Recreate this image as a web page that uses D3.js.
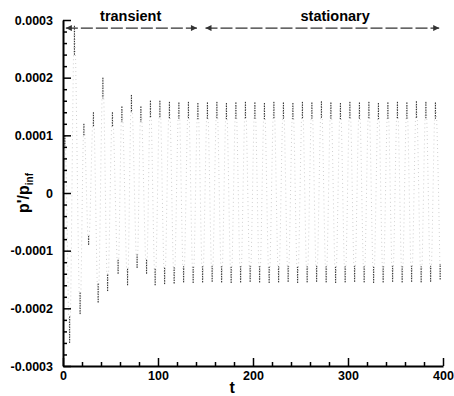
<!DOCTYPE html>
<html>
<head>
<meta charset="utf-8">
<script src="https://cdn.jsdelivr.net/npm/d3@7"></script>
<style>
  body { margin: 0; background: #fff; }
  text { font-family: "Liberation Sans", Arial, sans-serif; font-weight: bold; fill: #000; }
</style>
</head>
<body>
<svg id="chart" width="454" height="396"></svg>
<script>
// pressure signal at each turning point (t, p'/p_inf)
var sigT = [0, 2, 7, 12, 18, 22, 27, 32, 37, 42, 47, 52, 58, 62, 68, 72, 78, 82, 88, 92,
  97, 102, 107, 112, 117, 122, 127, 132, 137, 142, 147, 152, 157, 162, 167, 172, 177, 182,
  187, 192, 197, 202, 207, 212, 217, 222, 227, 232, 237, 242, 247, 252, 257, 262, 267, 272,
  277, 282, 287, 292, 297, 302, 307, 312, 317, 322, 327, 332, 337, 342, 347, 352, 357, 362,
  367, 372, 377, 382, 387, 392, 397];
var sigP = [0, 0.00010, -0.00026, 0.00029, -0.00021, 0.00012, -0.00009, 0.00014, -0.00019, 0.00020,
  -0.00017, 0.00014, -0.00014, 0.00015, -0.00016, 0.00017, -0.00013, 0.00015, -0.00014, 0.00016,
  -0.000160, 0.000160, -0.000158, 0.000158, -0.000157, 0.000157, -0.000155, 0.000158, -0.000156, 0.000156,
  -0.000155, 0.000157, -0.000154, 0.000158, -0.000155, 0.000156, -0.000156, 0.000157, -0.000155, 0.000158,
  -0.000154, 0.000157, -0.000155, 0.000156, -0.000156, 0.000158, -0.000155, 0.000157, -0.000154, 0.000156,
  -0.000156, 0.000158, -0.000155, 0.000157, -0.000154, 0.000159, -0.000155, 0.000157, -0.000156, 0.000156,
  -0.000155, 0.000158, -0.000154, 0.000157, -0.000155, 0.000158, -0.000156, 0.000156, -0.000155, 0.000157,
  -0.000154, 0.000158, -0.000155, 0.000157, -0.000154, 0.000159, -0.000155, 0.000158, -0.000154, 0.000157,
  -0.000150];

var xTicks = [0, 100, 200, 300, 400];
var xMinor = [20, 40, 60, 80, 120, 140, 160, 180, 220, 240, 260, 280, 320, 340, 360, 380];
var yTicks = [-0.0003, -0.0002, -0.0001, 0, 0.0001, 0.0002, 0.0003];
var yMinor = [-0.00028, -0.00026, -0.00024, -0.00022, -0.00018, -0.00016, -0.00014, -0.00012,
  -0.00008, -0.00006, -0.00004, -0.00002, 0.00002, 0.00004, 0.00006, 0.00008,
  0.00012, 0.00014, 0.00016, 0.00018, 0.00022, 0.00024, 0.00026, 0.00028];

// phase spans drawn at the top
var phases = [["transient", 3, 141, 39], ["stationary", 150, 396, 250]];

var svg = d3.select("#chart");
var x = d3.scaleLinear().domain([0, 400]).range([63, 443]);
var y = d3.scaleLinear().domain([-0.0003, 0.0003]).range([366, 20]);

var pts = sigT.map(function(t, i) { return [t, sigP[i]]; });

//Signal line
var line = d3.line()
    .x(d => x(d[0]))
    .y(d => y(d[1]))
    .curve(d3.curveMonotoneX);

svg.append("path")
    .datum(pts)
    .attr("d", line)
    .attr("fill", "none")
    .attr("stroke", "#a0a0a0")
    .attr("stroke-width", 0.5)
    .attr("stroke-dasharray", "1,3");

//Darker strokes near each turning point (how the scan shows them)
svg.append("g")
    .selectAll("line")
    .data(pts.slice(1))
    .enter()
    .append("line")
    .attr("x1", d => x(d[0]))
    .attr("x2", d => x(d[0]))
    .attr("y1", d => y(d[1]))
    .attr("y2", d => y(d[1] * 0.82))
    .attr("stroke", "#222")
    .attr("stroke-width", 1)
    .attr("stroke-dasharray", "1.5,1");

//Axes
var fmt = function(d) { return d === 0 ? "0" : d.toFixed(4); };

svg.append("g")
    .attr("transform", "translate(0,366)")
    .call(d3.axisBottom(x).tickValues(xMinor).tickSize(-4).tickFormat(""))
    .call(g => g.select(".domain").remove());
var xAxis = svg.append("g")
    .attr("transform", "translate(0,366)")
    .call(d3.axisBottom(x).tickValues(xTicks).tickSizeInner(-8).tickSizeOuter(0).tickPadding(5));

svg.append("g")
    .attr("transform", "translate(63,0)")
    .call(d3.axisLeft(y).tickValues(yMinor).tickSize(-4).tickFormat(""))
    .call(g => g.select(".domain").remove());
var yAxis = svg.append("g")
    .attr("transform", "translate(63,0)")
    .call(d3.axisLeft(y).tickValues(yTicks).tickFormat(fmt).tickSizeInner(-8).tickSizeOuter(0).tickPadding(10));

svg.selectAll(".tick line").attr("stroke", "#000").attr("stroke-width", 1.5);
svg.selectAll(".domain").attr("stroke", "#000").attr("stroke-width", 2);
svg.selectAll(".tick text").style("font-size", "12.5px").style("font-weight", "bold")
    .style("font-family", "'Liberation Sans', Arial, sans-serif");

//Axis titles
svg.append("text")
    .attr("x", x(178))
    .attr("y", 393)
    .attr("text-anchor", "middle")
    .style("font-size", "16px")
    .text("t");

var ylab = svg.append("text")
    .attr("transform", "translate(29," + y(0) + ") rotate(-90)")
    .attr("text-anchor", "middle")
    .style("font-size", "16px");
ylab.append("tspan").text("p'/p");
ylab.append("tspan").attr("dy", 4).style("font-size", "10px").text("inf");

//Phase arrows at the top
var defs = svg.append("defs");
defs.append("marker")
    .attr("id", "head")
    .attr("viewBox", "0 0 10 10")
    .attr("refX", 10).attr("refY", 5)
    .attr("markerWidth", 7).attr("markerHeight", 5)
    .attr("orient", "auto-start-reverse")
    .append("path")
    .attr("d", "M0,0L10,5L0,10z")
    .attr("fill", "#333");

var phase = svg.append("g")
    .selectAll("g")
    .data(phases)
    .enter()
    .append("g");

phase.append("line")
    .attr("x1", d => x(d[1]))
    .attr("x2", d => x(d[2]))
    .attr("y1", y(0.000286))
    .attr("y2", y(0.000286))
    .attr("stroke", "#333")
    .attr("stroke-width", 1.2)
    .attr("stroke-dasharray", "12,3")
    .attr("marker-start", "url(#head)")
    .attr("marker-end", "url(#head)");

phase.append("text")
    .attr("x", d => x(d[3]))
    .attr("y", 21)
    .style("font-size", "14.5px")
    .text(d => d[0]);
</script>
</body>
</html>
